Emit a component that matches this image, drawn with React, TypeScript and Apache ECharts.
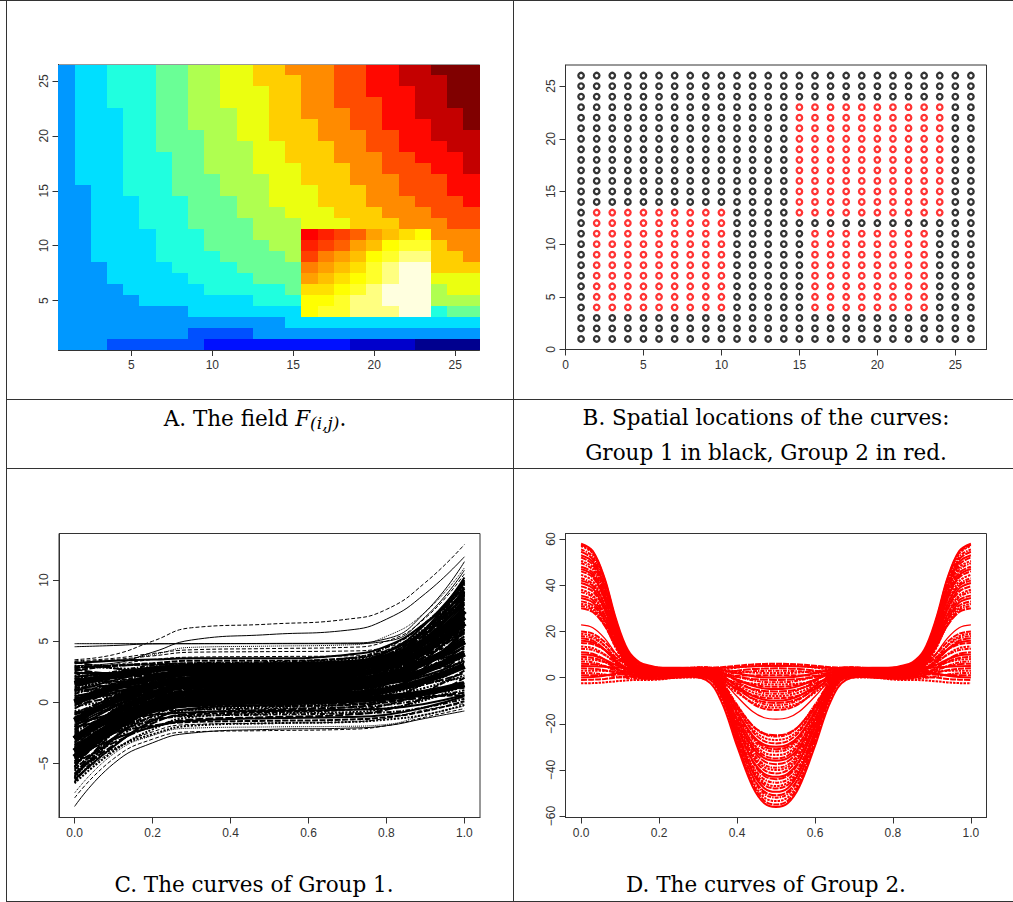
import React, { useEffect, useRef } from "react";
import * as echarts from "echarts";

const gridIndexLabels = Array.from({ length: 26 }, (_, k) => String(k + 1));

const fieldPalette = [
  "#00008F", "#0000CC", "#0010FF", "#0050FF", "#0098FF", "#00DFFF", "#20FFDF", "#6AFF96",
  "#AFFF50", "#EBFF10", "#FFCF00", "#FF8B00", "#FF4C00", "#FF0800", "#C40000", "#800000",
  "#FF0000", "#FF2000", "#FF4000", "#FF6000", "#FF8000", "#FFA000", "#FFC000", "#FFE000",
  "#FFFF00", "#FFFF2A", "#FFFF80", "#FFFFDF",
];

// Colour level of each cell, top row (j = 26) first, i = 1..26 within a row.
const fieldRows = [
  [4,5,5,6,6,6,7,7,8,8,9,9,10,10,11,11,11,12,12,13,13,14,14,15,15,15],
  [4,5,5,6,6,6,7,7,8,8,9,9,10,10,10,11,11,12,12,13,13,14,14,14,15,15],
  [4,5,5,6,6,6,7,7,8,8,9,9,9,10,10,11,11,12,12,13,13,13,14,14,15,15],
  [4,5,5,6,6,6,7,7,8,8,9,9,9,10,10,11,11,12,12,12,13,13,14,14,15,15],
  [4,5,5,5,6,6,7,7,8,8,8,9,9,10,10,11,11,11,12,12,13,13,14,14,14,15],
  [4,5,5,5,6,6,7,7,8,8,8,9,9,10,10,10,11,11,12,12,13,13,13,14,14,15],
  [4,5,5,5,6,6,7,7,7,8,8,9,9,10,10,10,11,11,11,12,12,13,13,14,14,14],
  [4,5,5,5,6,6,7,7,7,8,8,8,9,9,10,10,10,11,11,12,12,13,13,13,14,14],
  [4,5,5,5,6,6,6,7,7,8,8,8,9,9,10,10,10,11,11,11,12,12,13,13,13,14],
  [4,5,5,5,6,6,6,7,7,8,8,8,9,9,9,10,10,10,11,11,12,12,12,13,13,14],
  [4,5,5,5,6,6,6,7,7,7,8,8,8,9,9,10,10,10,11,11,11,12,12,12,13,13],
  [4,4,5,5,6,6,6,7,7,7,8,8,8,9,9,9,10,10,10,11,11,12,12,12,13,13],
  [4,4,5,5,5,6,6,6,7,7,7,8,8,9,9,9,10,10,10,11,11,11,12,12,12,13],
  [4,4,5,5,5,6,6,6,7,7,7,8,8,8,9,9,9,10,10,10,11,11,11,12,12,12],
  [4,4,5,5,5,6,6,6,7,7,7,7,8,8,8,9,9,9,10,10,10,11,11,11,12,12],
  [4,4,5,5,5,5,6,6,6,7,7,7,8,8,8,16,17,18,19,21,22,23,24,11,11,11],
  [4,4,5,5,5,5,6,6,6,7,7,7,7,8,8,17,18,19,21,22,24,25,25,10,11,11],
  [4,4,5,5,5,5,6,6,6,6,7,7,7,7,8,18,20,21,22,24,25,26,26,10,10,11],
  [4,4,4,5,5,5,5,6,6,6,6,7,7,7,7,20,21,22,23,25,26,27,27,10,10,10],
  [4,4,4,5,5,5,5,5,6,6,6,6,7,7,7,21,22,23,24,25,26,27,27,9,9,9],
  [4,4,4,4,5,5,5,5,5,6,6,6,6,6,7,23,23,24,25,26,27,27,27,8,9,9],
  [4,4,4,4,4,5,5,5,5,5,5,5,6,6,6,24,24,25,26,26,27,27,27,8,8,8],
  [4,4,4,4,4,4,4,4,5,5,5,5,5,5,5,24,25,25,26,26,26,27,27,6,7,7],
  [4,4,4,4,4,4,4,4,4,4,4,4,4,4,5,5,5,5,5,5,5,5,5,5,5,5],
  [4,4,4,4,4,4,4,4,3,3,3,3,4,4,4,4,4,4,4,4,4,4,4,4,4,4],
  [4,4,4,3,3,3,3,3,3,2,2,2,2,2,2,2,2,2,1,1,1,1,0,0,0,0],
];

// Group 2 blocks of panel B: [iFrom, iTo, jFrom, jTo]
const group2Blocks = [
  [2, 10, 4, 13],
  [15, 24, 13, 23],
  [16, 23, 4, 11],
];

const group1X = [0, 0.1, 0.2, 0.3, 0.5, 0.7, 0.8, 0.9, 1];
const group1Outliers = [
  [3.5,3.9,5,6.1,6.4,6.8,7.6,9.8,12.9],
  [3,3.2,4.1,5.1,5.55,5.9,6.8,8.9,11.9],
  [4.8,4.8,4.8,4.8,4.8,4.8,5,7,10.8],
  [4.55,4.65,4.78,4.8,4.82,4.85,5.2,7.4,11.5],
  [-8.5,-5,-3.3,-2.5,-2.2,-2.1,-1.9,-1.3,-0.7],
  [-7.8,-4.6,-3,-2.4,-2.3,-2.2,-1.9,-1.2,-0.5],
  [-7.4,-4.2,-2.7,-2.1,-2,-1.95,-1.8,-1,-0.3],
  [3.3,3.5,3.8,4.1,4.15,4.2,4.5,6.4,9.8],
  [3.4,3.6,4,4.3,4.4,4.5,5,6.9,10.5],
  [3.2,3.4,3.9,4.5,4.6,4.7,5.4,7.4,11],
  [2.8,3.1,3.5,3.7,3.75,3.8,4.3,6.4,9.6],
  [-6.4,-3.9,-2.4,-1.8,-1.7,-1.6,-1.3,-0.6,-0.1],
];
const group1OutlierLines: any[] = ["dashed", "solid", "solid", "solid", "solid", "dashed", "dotted", "dashed", "dashed", "dotted", "dashed", "dashed"];
const group1Core = [
  [-3,-1.3,-0.6,-0.1,0.1,0.2,0.4,0.8,1.5],
  [-4.5,-2.2,-0.5,0.3,0.6,0.7,1,1.8,3],
  [-4,-1.7,0,0.8,1.1,1.3,1.7,2.6,4],
  [-3,-0.9,0.6,1.4,1.6,1.8,2.2,3.3,5],
  [-1.5,0.1,1.3,1.9,2.1,2.3,2.9,4.3,6.5],
  [0,1.2,2,2.5,2.6,2.9,3.5,5,7.5],
  [1.5,2.2,2.7,2.9,3,3.2,3.7,5,7],
];
const group1Curves = [
  [3.2,3.4,3.5,3.6,3.6,3.9,4.6,6.5,9.4],
  [2.6,3,3.2,3.4,3.4,3.6,4.2,5.7,8],
  [1,2,2.7,3.1,3.2,3.5,4.2,6.1,9],
  [2.9,3,3.1,3.1,3.1,3.3,3.7,4.8,6.5],
  [-0.5,1,2.2,2.7,2.9,3.2,3.9,5.8,8.6],
  [2.1,2.4,2.6,2.8,2.8,3.2,4.1,6.4,10],
  [0.2,1.3,2.2,2.6,2.7,2.8,3.2,4.2,5.6],
  [3,2.8,2.7,2.6,2.6,2.9,3.5,5.1,7.6],
  [-1.5,0.3,1.6,2.3,2.5,2.8,3.7,5.9,9.2],
  [1.6,2,2.2,2.4,2.4,2.5,2.8,3.4,4.4],
  [2.4,2.4,2.3,2.3,2.3,2.6,3.4,5.3,8.2],
  [-3,-0.7,1.1,2,2.2,2.4,3.1,4.6,7],
  [0.8,1.4,1.8,2,2.1,2.5,3.5,5.9,9.6],
  [-0.9,0.4,1.4,1.9,2,2.2,2.5,3.5,5],
  [2.7,2.3,2.1,1.9,1.9,2,2.2,2.6,3.3],
  [-2.2,-0.4,0.9,1.6,1.8,2.1,3,5.1,8.4],
  [1.2,1.4,1.6,1.7,1.7,1.9,2.5,4,6.2],
  [-4,-1.5,0.4,1.3,1.6,1.9,2.7,4.7,7.8],
  [0.1,0.7,1.2,1.4,1.5,1.6,1.7,2.2,2.8],
  [2,1.7,1.5,1.4,1.4,1.8,2.8,5.2,9],
  [-1,0,0.8,1.2,1.3,1.5,2,3.4,5.4],
  [-5,-2.2,-0.2,0.9,1.2,1.5,2.2,4,6.8],
  [1.5,1.3,1.2,1.1,1.1,1.2,1.3,1.6,2],
  [-2.8,-0.9,0.2,0.8,1,1.3,2.1,4.1,7.2],
  [0.4,0.6,0.8,0.9,0.9,1.1,1.5,2.6,4.2],
  [-3.6,-1.6,-0.2,0.6,0.8,1.2,2.1,4.4,8],
  [-6,-3,-0.8,0.4,0.7,1,1.6,3.2,5.8],
  [-0.3,0.1,0.4,0.6,0.6,0.7,1,1.8,3],
  [1,0.8,0.6,0.5,0.5,0.8,1.6,3.5,6.4],
  [-4.5,-2.3,-0.7,0.2,0.4,0.4,0.5,0.8,1.2],
  [-1.8,-0.9,-0.2,0.2,0.3,0.5,1.1,2.5,4.6],
  [-5.5,-2.9,-1.1,-0.1,0.2,0.6,1.5,3.8,7.4],
  [0.6,0.4,0.2,0.1,0.1,0.2,0.5,1.2,2.2],
  [-2.5,-1.4,-0.6,-0.1,0,0.3,0.9,2.6,5.2],
  [-3.2,-1.8,-0.8,-0.3,-0.1,-0.1,0.1,0.4,0.8],
  [-6.3,-3.6,-1.5,-0.5,-0.2,0.1,0.9,2.9,6],
  [-0.8,-0.6,-0.4,-0.3,-0.3,-0.2,0,0.7,1.6],
  [-4.2,-2.5,-1.2,-0.6,-0.4,-0.2,0.3,1.6,3.6],
  [-1.6,-1.1,-0.7,-0.6,-0.5,-0.4,-0.2,0.3,1],
  [-5.8,-3.5,-1.7,-0.9,-0.6,-0.4,0.2,1.7,4],
  [-2,-1.4,-1,-0.8,-0.7,-0.6,-0.5,-0.1,0.6],
  [-3.8,-2.5,-1.5,-1,-0.8,-0.6,-0.2,0.9,2.6],
  [-6.6,-4,-2.2,-1.2,-0.9,-0.8,-0.5,0.2,1.4],
  [-2.6,-1.9,-1.4,-1.1,-1,-0.9,-0.8,-0.4,0.3],
  [-5,-3.3,-2,-1.4,-1.2,-1,-0.6,0.4,2],
  [-4.4,-3,-2,-1.5,-1.3,-1.2,-1,-0.4,0.5],
  [-3.4,-2.5,-1.9,-1.6,-1.5,-1.4,-1.2,-0.7,0.1],
  [-5.6,-3.8,-2.6,-1.9,-1.7,-1.6,-1.4,-1,-0.2],
  [-3.3,-0.6,1.3,2.3,2.6,2.8,3.2,4.3,6],
  [-2,0.3,1.9,2.8,3,3.2,3.8,5.1,7.2],
  [0.5,1.1,1.5,1.7,1.8,2.2,3.3,6,10.2],
  [-1.2,-0.2,0.5,0.9,1,1.4,2.6,5.5,9.9],
  [2.2,1.5,1,0.8,0.7,1.1,2.2,4.8,8.8],
  [1.9,2.5,3,3.2,3.3,3.6,4.5,6.5,9.7],
  [-0.2,0.4,0.9,1.1,1.2,1.6,2.6,5,8.9],
  [-4.8,-1.6,0.8,2,2.4,2.6,3.2,4.5,6.6],
  [-5.2,-2.2,-0.1,1.1,1.4,1.6,2.1,3.2,5],
  [-6.1,-2.9,-0.6,0.6,0.9,1,1.3,2,3.2],
  [0,0.8,1.3,1.5,1.6,2,3,5.4,9.4],
  [-1,0.4,1.6,2.2,2.3,2.6,3.5,5.6,8.8],
  [0.9,1.8,2.5,2.9,3,3.3,4.1,6,9.1],
  [2.4,1.5,0.8,0.4,0.3,0.3,0.4,0.5,0.6],
  [1.3,1.7,2,2.2,2.2,2.3,2.5,3,3.6],
  [-2.4,-0.8,0.6,1.3,1.5,1.7,2.3,3.7,5.9],
  [-3,-1,0.5,1.3,1.5,1.7,2.3,3.8,6],
  [-4.6,-1.6,0.5,1.7,2,2.3,3.2,5.2,8.5],
  [-5.3,-1.6,1,2.4,2.8,3.1,3.9,5.9,9],
  [-3.7,-0.7,1.5,2.7,3,3.2,3.8,5.2,7.5],
  [-2.3,-0.3,1.2,2,2.2,2.3,2.7,3.5,4.8],
  [-5.9,-2.4,0.2,1.5,1.9,2,2.4,3.2,4.5],
  [-4.1,-1.8,0,0.8,1.1,1.2,1.5,2.2,3.4],
  [-1.3,0.5,1.7,2.4,2.6,2.9,3.7,5.6,8.7],
  [-6.2,-2.4,0.4,1.9,2.3,2.5,3,4.2,6.2],
  [0.3,1.5,2.4,2.9,3,3.1,3.4,4,5],
  [-2.9,-1.3,-0.2,0.4,0.6,0.7,0.9,1.5,2.4],
  [1.8,2.3,2.7,2.9,2.9,3,3.1,3.4,4],
  [-3.5,-1.2,0.6,1.4,1.7,2.1,3.1,5.5,9.3],
  [-0.7,-0.3,0,0.2,0.2,0.3,0.7,1.5,2.9],
  [2.5,2,1.6,1.4,1.3,1.6,2.3,4.2,7],
  [1.1,1,0.9,0.8,0.8,1,1.7,3.2,5.7],
  [-1.9,-0.3,0.8,1.4,1.6,1.7,2,2.7,3.8],
  [-4.9,-2.5,-0.7,0.2,0.5,0.8,1.6,3.5,6.6],
  [-5.4,-3.1,-1.4,-0.6,-0.3,0,0.6,2.4,5],
  [0.7,1.5,2.1,2.4,2.5,2.7,3.3,4.8,7.1],
  [3.3,2.8,2.4,2.2,2.1,2.5,3.5,6,9.8],
  [-0.1,0.8,1.5,1.8,1.9,2.2,3,5,8.1],
  [2.8,3,3.1,3.2,3.2,3.3,3.7,4.5,5.9],
  [-2.7,-1.1,0.1,0.7,0.9,1.3,2.4,5,9],
  [-6.5,-3,-0.4,0.9,1.3,1.6,2.5,4.5,7.7],
];

const group2LobeX = [0, 0.03, 0.06, 0.09, 0.12, 0.15, 0.18];
const group2DipX = [0.32, 0.36, 0.4, 0.44, 0.47, 0.5];
const group2Lobes = [
  [58,54.8,43.2,25.1,11.9,6.6,5],[57.5,54.3,42.5,24.3,11,5.6,4],[57,53.7,41.6,22.9,9.2,3.7,2],
  [55.5,52.4,40.8,23,9.8,4.6,3],[54.5,51.3,39.5,21.3,8,2.6,1],[53,50.1,39.4,22.9,10.8,6,4.5],
  [52,48.9,37.4,19.8,6.8,1.6,0],[50.5,47.7,37.3,21.4,9.6,4.9,3.5],[49.5,46.7,36.3,20.4,8.6,3.9,2.5],
  [48,45.4,35.7,20.7,9.7,5.3,4],[47,44.3,34.3,18.8,7.4,2.9,1.5],[46,43.4,34,19.3,8.6,4.3,3],
  [44.5,41.8,31.9,16.6,5.4,0.9,-0.5],[43,40.5,31.5,17.6,7.3,3.2,2],[42,39.8,31.5,18.8,9.4,5.6,4.5],
  [41,38.6,29.8,16.2,6.2,2.2,1],[39.5,37.3,29.4,17.2,8.2,4.6,3.5],[38,35.7,27.4,14.4,4.9,1.1,0],
  [37,34.9,27.3,15.6,7,3.5,2.5],[35.5,33.6,26.7,16,8.1,4.9,4],[34.5,32.5,25.3,14,5.8,2.5,1.5],
  [33,31.2,24.6,14.4,6.9,3.9,3],[32,30.1,23.2,12.5,4.6,1.4,0.5],[31,29.3,22.9,13,5.8,2.9,2],
  [30,28.4,22.6,13.6,7,4.3,3.5],[22.8,21.6,17.1,10.2,5.1,3.1,2.5],[20,19,15.5,10.1,6.1,4.5,4],
  [19,17.9,14,7.8,3.3,1.5,1],[18,17.1,13.8,8.7,5,3.5,3],[17,16,12.2,6.5,2.2,0.5,0],
  [16,15.2,12.1,7.3,3.8,2.4,2],[15,14.4,12.1,8.5,5.9,4.8,4.5],[13.5,12.8,10.1,6.1,3.1,1.9,1.5],
  [12.5,11.9,9.8,6.6,4.2,3.3,3],[11,10.3,7.8,3.9,1,-0.2,-0.5],[10,9.6,7.9,5.4,3.5,2.7,2.5],
  [9,8.5,6.8,4,2,1.2,1],[8,7.7,6.7,5.2,4.1,3.6,3.5],[7,6.6,5,2.7,0.9,0.2,0],
  [6,5.8,4.9,3.5,2.5,2.1,2],[5,4.9,4.7,4.4,4.1,4,4],[4,3.8,3.2,2.1,1.4,1.1,1],
  [3,3,2.9,2.7,2.6,2.5,2.5],[2,1.9,1.3,0.5,-0.2,-0.4,-0.5],[1,1,1.1,1.3,1.4,1.5,1.5],
  [0,0.2,0.8,1.9,2.6,2.9,3],[-1,-0.9,-0.6,0,0.3,0.5,0.5],[-2.5,-2.4,-2.1,-1.6,-1.2,-1,-1],
];
const group2Dips = [
  [-1,-10.4,-29.6,-47.2,-54.4,-56],[2,-7.7,-27.6,-45.9,-53.3,-55],[0,-9.1,-27.8,-44.9,-51.9,-53.5],
  [3,-6.4,-25.6,-43.2,-50.4,-52],[1,-7.8,-26,-42.7,-49.4,-51],[4,-5.1,-23.8,-40.9,-47.9,-49.5],
  [0.5,-7.7,-24.7,-40.2,-46.5,-48],[2.5,-5.9,-23.2,-39.1,-45.5,-47],[0,-7.7,-23.7,-38.2,-44.1,-45.5],
  [3.5,-4.6,-21.2,-36.4,-42.6,-44],[1.5,-6.1,-21.6,-35.9,-41.7,-43],[4,-3.7,-19.7,-34.2,-40.1,-41.5],
  [0.5,-6.4,-20.6,-33.5,-38.8,-40],[2,-5,-19.3,-32.4,-37.8,-39],[3,-3.9,-18.1,-31,-36.3,-37.5],
  [1,-5.3,-18.2,-30.1,-34.9,-36],[4.5,-2.2,-16,-28.7,-33.8,-35],[0,-5.7,-17.4,-28.1,-32.5,-33.5],
  [2.5,-3.4,-15.4,-26.5,-31,-32],[3.5,-2.4,-14.4,-25.5,-30,-31],[1,-4.3,-15.1,-25,-29.1,-30],
  [4,-1.5,-12.9,-23.3,-27.5,-28.5],[2,-2.9,-13.1,-22.4,-26.1,-27],[3,-1.8,-11.8,-20.9,-24.6,-25.5],
  [1.5,-3,-12.3,-20.8,-24.2,-25],[2.5,-1,-8.2,-14.7,-17.4,-18],[3,0.1,-5.8,-11.3,-13.5,-14],
  [0.5,-1.8,-6.5,-10.8,-12.6,-13],[4,1.3,-4.3,-9.4,-11.5,-12],[1.5,-0.6,-5,-9,-10.6,-11],
  [3,0.8,-3.8,-7.9,-9.6,-10],[0,-1.5,-4.7,-7.6,-8.7,-9],[2,0.3,-3.2,-6.4,-7.7,-8],
  [4.5,2.5,-1.5,-5.2,-6.7,-7],[1,-0.2,-2.6,-4.9,-5.8,-6],[3.5,2.1,-0.9,-3.6,-4.7,-5],
  [2.5,1.4,-0.9,-3,-3.8,-4],[-0.5,-0.9,-1.8,-2.6,-2.9,-3],[3,2.2,0.4,-1.2,-1.9,-2],
  [1.5,1.1,0.2,-0.6,-0.9,-1],[4,3.3,1.9,0.6,0.1,0],[0.5,0.6,0.8,0.9,1,1],
  [3.5,3.2,2.7,2.2,2,2],[1,1.3,2,2.7,2.9,3],[2,2.3,3,3.7,3.9,4],
  [4,4.2,4.5,4.8,5,5],[4.2,4.5,5.1,5.7,5.9,6],[3,3.4,4.3,5.1,5.4,5.5],
];

const blackLineTypes: any[] = ["solid", [6, 1.5], [2, 1.5], [5, 1.5, 1.5, 1.5], [8, 2]];
const redLineTypes: any[] = ["solid", [6, 1], [2.5, 1], [4, 1, 1.5, 1], [8, 1]];
const fieldTicks = [5, 10, 15, 20, 25];
const locationTicks = [0, 5, 10, 15, 20, 25];
const fractionTicks = [0, 0.2, 0.4, 0.6, 0.8, 1];
const group1YTicks = [-5, 0, 5, 10];
const group2YTicks = [-60, -40, -20, 0, 20, 40, 60];

const capFont = "'DejaVu Serif', serif";
const capSize = 21.5;
const AXIS = "#333";
const tickFont = "'Liberation Sans', sans-serif";

function tickLabel(v: number | string) {
  return String(v).replace("-", "\u2212");
}

function valueAxis(min: number, max: number, ticks: number[], gridIndex: number, vertical: boolean, decimals = 0) {
  return {
    type: "value" as const,
    gridIndex,
    min,
    max,
    splitLine: { show: false },
    axisLine: { show: true, onZero: false, lineStyle: { color: AXIS, width: 1 } },
    axisTick: { show: true, length: 6, customValues: ticks, lineStyle: { color: AXIS, width: 1 } },
    axisLabel: {
      customValues: ticks,
      fontFamily: tickFont,
      fontSize: 12,
      color: "#333",
      margin: 9,
      rotate: vertical ? 90 : 0,
      formatter: (v: number) => tickLabel(decimals ? v.toFixed(decimals) : v),
    },
  };
}

function categoryAxis(gridIndex: number, vertical: boolean) {
  const everyFifth = (i: number) => fieldTicks.includes(i + 1);
  return {
    type: "category" as const,
    gridIndex,
    data: gridIndexLabels,
    boundaryGap: true,
    splitLine: { show: false },
    axisLine: { show: true, onZero: false, lineStyle: { color: AXIS, width: 1 } },
    axisTick: { show: true, length: 6, alignWithLabel: true, interval: everyFifth, lineStyle: { color: AXIS, width: 1 } },
    axisLabel: {
      interval: everyFifth,
      fontFamily: tickFont,
      fontSize: 12,
      color: "#333",
      margin: 9,
      rotate: vertical ? 90 : 0,
    },
  };
}

function caption(text: string, x: number, y: number, rich?: any) {
  return {
    type: "text",
    x,
    y,
    silent: true,
    style: {
      text,
      fontFamily: capFont,
      fontSize: capSize,
      fill: "#000",
      align: "center",
      verticalAlign: "middle",
      rich,
    },
  };
}

function rule(x1: number, y1: number, x2: number, y2: number) {
  return {
    type: "line",
    silent: true,
    shape: { x1, y1, x2, y2 },
    style: { stroke: "#333", lineWidth: 1 },
  };
}

export default function App() {
  const ref = useRef<HTMLDivElement>(null);
  useEffect(() => {
    const chart = echarts.init(ref.current!, null, { renderer: "svg" });

    const heatData: number[][] = [];
    fieldRows.forEach((row, r) => {
      row.forEach((level, c) => heatData.push([c, fieldRows.length - 1 - r, level]));
    });

    const inGroup2 = (i: number, j: number) =>
      group2Blocks.some(([a, b, c, d]) => i >= a && i <= b && j >= c && j <= d);
    const blackPts: number[][] = [];
    const redPts: number[][] = [];
    gridIndexLabels.forEach((_, a) =>
      gridIndexLabels.forEach((__, b) => (inGroup2(a + 1, b + 1) ? redPts : blackPts).push([a + 1, b + 1]))
    );

    const blackLine = (c: number[], width: number, type: any) => ({
      type: "line" as const,
      xAxisIndex: 2,
      yAxisIndex: 2,
      showSymbol: false,
      smooth: 0.5,
      silent: true,
      lineStyle: { color: "#000", width, type },
      data: c.map((v, i) => [group1X[i], v]),
    });
    const curveSeries = [
      ...group1Core.map((c) => blackLine(c, 6.5, "solid")),
      ...group1Curves.map((c, k) => blackLine(c, 2, blackLineTypes[k % blackLineTypes.length])),
      ...group1Outliers.map((c, k) => blackLine(c, 1, group1OutlierLines[k])),
    ];

    const redSeries = group2Lobes.map((lobe, k) => {
      const dip = group2Dips[k % group2Dips.length];
      const pts: number[][] = [];
      lobe.forEach((v, i) => pts.push([group2LobeX[i], v]));
      dip.forEach((v, i) => pts.push([group2DipX[i], v]));
      for (let i = dip.length - 2; i >= 0; i--) pts.push([1 - group2DipX[i], dip[i]]);
      for (let i = lobe.length - 1; i >= 0; i--) pts.push([1 - group2LobeX[i], lobe[i]]);
      return {
        type: "line" as const,
        xAxisIndex: 3,
        yAxisIndex: 3,
        showSymbol: false,
        smooth: 0.35,
        silent: true,
        lineStyle: { color: "#FF0000", width: k === 25 ? 1.3 : 2, type: redLineTypes[k % redLineTypes.length] },
        data: pts,
      };
    });

    const circle = (color: string) => ({
      color: "#fff",
      borderColor: color,
      borderWidth: 2.3,
    });

    chart.setOption({
      animation: false,
      backgroundColor: "#fff",
      grid: [
        { left: 58.5, top: 64.5, width: 421, height: 285.5, show: true, borderColor: "#999", borderWidth: 1, backgroundColor: "#fff" },
        { left: 565.5, top: 65, width: 421, height: 284.5, show: true, borderColor: AXIS, borderWidth: 1, backgroundColor: "#fff" },
        { left: 59, top: 533.5, width: 421, height: 284, show: true, borderColor: AXIS, borderWidth: 1, backgroundColor: "#fff" },
        { left: 565.5, top: 533.5, width: 421, height: 284, show: true, borderColor: AXIS, borderWidth: 1, backgroundColor: "#fff" },
      ],
      xAxis: [
        categoryAxis(0, false),
        valueAxis(0, 27, locationTicks, 1, false),
        valueAxis(-0.04, 1.04, fractionTicks, 2, false, 1),
        valueAxis(-0.04, 1.04, fractionTicks, 3, false, 1),
      ],
      yAxis: [
        categoryAxis(0, true),
        valueAxis(0, 27, locationTicks, 1, true),
        valueAxis(-9.4, 13.8, group1YTicks, 2, true),
        valueAxis(-60.6, 62.4, group2YTicks, 3, true),
      ],
      series: [
        {
          type: "custom",
          xAxisIndex: 0,
          yAxisIndex: 0,
          silent: true,
          encode: { x: 0, y: 1 },
          data: heatData,
          renderItem: (_: any, api: any) => {
            const c = api.coord([api.value(0), api.value(1)]);
            const s = api.size([1, 1]);
            const x0 = Math.round(c[0] - s[0] / 2);
            const x1 = Math.round(c[0] + s[0] / 2);
            const y0 = Math.round(c[1] - s[1] / 2);
            const y1 = Math.round(c[1] + s[1] / 2);
            return {
              type: "rect",
              shape: { x: x0, y: y0, width: x1 - x0, height: y1 - y0 },
              style: { fill: fieldPalette[api.value(2)] },
            };
          },
        },
        {
          type: "scatter",
          xAxisIndex: 1,
          yAxisIndex: 1,
          symbol: "circle",
          symbolSize: 5.5,
          silent: true,
          itemStyle: circle("#000"),
          data: blackPts,
        },
        {
          type: "scatter",
          xAxisIndex: 1,
          yAxisIndex: 1,
          symbol: "circle",
          symbolSize: 5.5,
          silent: true,
          itemStyle: circle("#FF0000"),
          data: redPts,
        },
        ...curveSeries,
        ...redSeries,
      ],
      graphic: {
        elements: [
          rule(0, 0.5, 1013, 0.5),
          rule(6.5, 399.5, 1013, 399.5),
          rule(6.5, 468.5, 1013, 468.5),
          rule(6.5, 901.5, 1013, 901.5),
          rule(6.5, 0, 6.5, 902),
          rule(513.5, 0, 513.5, 902),
          caption("A. The field {f|F}{s|(i,j)}.", 255, 418, {
            f: { fontFamily: capFont, fontSize: capSize, fontStyle: "italic", fill: "#000" },
            s: { fontFamily: capFont, fontSize: 17, fontStyle: "italic", fill: "#000", padding: [9, 0, 0, 0] },
          }),
          caption("B. Spatial locations of the curves:", 766, 417),
          caption("Group 1 in black, Group 2 in red.", 766, 452),
          caption("C. The curves of Group 1.", 254, 884),
          caption("D. The curves of Group 2.", 766, 884),
        ],
      },
    });
    return () => chart.dispose();
  }, []);
  return (
    <div
      ref={ref}
      style={{ position: "absolute", left: 0, top: 0, width: 1013, height: 902, background: "#fff" }}
    />
  );
}
